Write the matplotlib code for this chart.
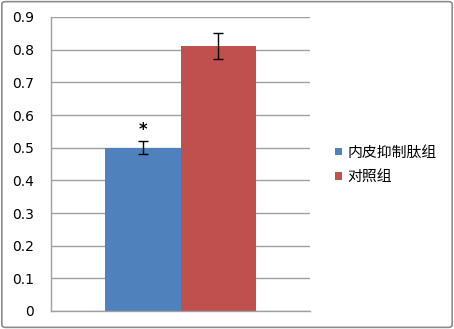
import matplotlib
matplotlib.use("Agg")
import matplotlib.pyplot as plt
from matplotlib.patches import FancyBboxPatch

plt.rcParams["font.family"] = ["Noto Sans CJK SC", "DejaVu Sans"]

groups = ["内皮抑制肽组", "对照组"]
values = [0.50, 0.81]
errors = [0.02, 0.04]
colors = ["#4F81BD", "#C0504D"]
y_ticks = [0, 0.1, 0.2, 0.3, 0.4, 0.5, 0.6, 0.7, 0.8, 0.9]
mark = "*"

fig = plt.figure(figsize=(4.54, 3.29), dpi=100)
ax = fig.add_axes([51 / 454, 1 - 311 / 329, 259 / 454, 294 / 329])

bar_w = 0.29
positions = [-bar_w / 2, bar_w / 2]
for pos, val, err, col, name in zip(positions, values, errors, colors, groups):
    ax.bar(pos, val, width=bar_w, color=col, label=name, zorder=2)
    ax.errorbar(pos, val, yerr=err, fmt="none", ecolor="black", elinewidth=1,
                capsize=3.5, capthick=1, zorder=3)

# significance mark above the first bar
ax.text(positions[0], values[0] + errors[0] + 0.035, mark, ha="center", va="center",
        fontsize=12, fontweight="bold", family="DejaVu Sans")

ax.set_xlim(-0.5, 0.5)
ax.set_ylim(0, 0.9)
ax.set_yticks(y_ticks)
ax.set_yticklabels([f"{t:g}" for t in y_ticks], family="DejaVu Sans", fontsize=10)
ax.set_xticks([])
ax.tick_params(axis="y", length=0, pad=12)
ax.yaxis.grid(True, color="#A0A0A0", linewidth=1, zorder=0)
ax.set_axisbelow(True)
for side in ["top", "right"]:
    ax.spines[side].set_visible(False)
for side in ["left", "bottom"]:
    ax.spines[side].set_color("#A0A0A0")
    ax.spines[side].set_linewidth(1)

fig.legend(loc="center left", bbox_to_anchor=(335 / 454, 1 - 165 / 329), frameon=False,
           fontsize=10.7, handlelength=0.45, handleheight=0.45, handletextpad=0.4,
           labelspacing=0.7, borderaxespad=0, borderpad=0)

border = FancyBboxPatch((0.004, 0.005), 0.992, 0.99, boxstyle="round,pad=0,rounding_size=0.008",
                        transform=fig.transFigure, facecolor="none", edgecolor="#8C8C8C",
                        linewidth=1.2)
fig.patches.append(border)

fig.savefig("out.png", dpi=100)
